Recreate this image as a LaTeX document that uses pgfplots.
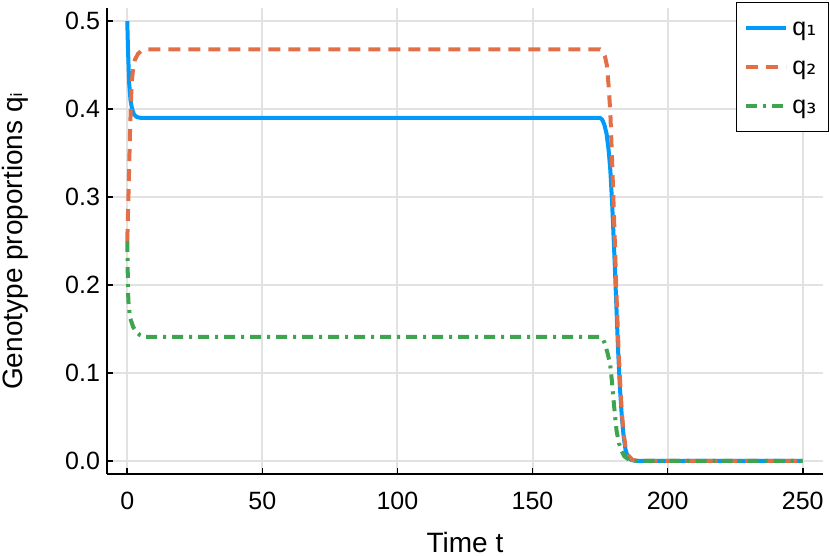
\documentclass[border=0pt]{standalone}
\usepackage{fontspec}
\setmainfont{Liberation Sans}
\newfontfamily\dejavu{DejaVu Sans}
\usepackage{pgfplots}
\pgfplotsset{compat=1.18}

\definecolor{cone}{HTML}{009AFA}
\definecolor{ctwo}{HTML}{E36F47}
\definecolor{cthree}{HTML}{3EA44E}
\definecolor{gridc}{HTML}{E2E2E2}

\begin{document}
\begin{tikzpicture}
\useasboundingbox (-53.5pt,-41pt) rectangle (361.5pt,237pt);
\begin{axis}[
    at={(0,0)}, anchor=south west,
    scale only axis,
    width=358pt, height=233pt,
    xmin=-7.5, xmax=257.5,
    ymin=-0.015, ymax=0.515,
    axis x line*=bottom, axis y line*=left,
    axis line style={-, black, line width=0.9pt},
    xtick={0,50,...,250},
    ytick={0,0.1,0.2,0.3,0.4,0.5},
    tick align=inside,
    major tick length=3pt,
    tick style={black, line width=0.8pt},
    grid=major,
    major grid style={gridc, line width=1pt},
    /pgf/number format/assume math mode=true,
    ticklabel style={font=\fontsize{12.5}{15}\selectfont},
    yticklabel style={/pgf/number format/.cd, fixed, fixed zerofill, precision=1},
    xticklabel style={yshift=-5.5pt},
    xlabel={Time t},
    ylabel={Genotype proportions q{\dejavu ᵢ}},
    label style={font=\fontsize{14}{17}\selectfont},
    xlabel style={at={(axis description cs:0.5,-0.1695)}, anchor=base},
    ylabel style={at={(axis description cs:-0.1187,0.5)}, anchor=base, rotate=0},
    legend style={
        at={(axis description cs:1,1)}, anchor=north east,
        xshift=3pt, yshift=3pt,
        draw=black, line width=0.6pt,
        font=\fontsize{12.5}{15}\selectfont,
        inner xsep=4pt, inner ysep=4pt,
        row sep=2pt,
        nodes={inner sep=2pt, text height=10.5pt, text depth=3pt},
    },
    legend cell align=left,
    legend image code/.code={\draw[#1] (0pt,0pt) -- (20pt,0pt);},
]
\addplot[cone, line width=2pt, line join=round] coordinates {
(0,0.5) (0.3,0.465) (0.7,0.43) (1.2,0.41) (1.8,0.4) (2.5,0.394) (3.5,0.391)
(5,0.39) (175,0.39) (175.8,0.388) (176.6,0.382) (177.4,0.372) (178.2,0.352)
(178.8,0.33) (179.5,0.29) (180.2,0.24) (180.9,0.186) (181.6,0.13) (182.3,0.085)
(183,0.052) (183.7,0.028) (184.4,0.013) (185.2,0.005) (186.5,0.001) (188,0) (250,0)
};
\addplot[ctwo, line width=2pt, dash pattern=on 6pt off 4pt] coordinates {
(0,0.25) (0.4,0.296) (1,0.372) (1.6,0.429) (2.2,0.447) (2.8,0.456) (4,0.463)
(5.5,0.467) (7,0.468) (175,0.468) (176,0.466) (176.8,0.46) (177.5,0.45)
(178.2,0.425) (178.8,0.395) (179.4,0.345) (179.9,0.30) (180.5,0.245) (181.1,0.186)
(181.8,0.13) (182.4,0.091) (183,0.058) (183.6,0.034) (184.4,0.016) (185.5,0.006)
(187,0.001) (189,0) (250,0)
};
\addplot[cthree, line width=2pt, dash pattern=on 5.5pt off 3pt on 1.5pt off 3pt] coordinates {
(0,0.25) (0.2,0.21) (0.4,0.182) (1,0.163) (2.2,0.152) (3.5,0.146) (4.7,0.143)
(6,0.141) (175,0.141) (176,0.139) (176.8,0.133) (177.8,0.122) (178.7,0.11)
(179.3,0.093) (179.9,0.072) (180.5,0.052) (181.1,0.034) (182,0.02) (183,0.011)
(184,0.005) (185.4,0.002) (187,0) (250,0)
};
\legend{q{\dejavu ₁}, q{\dejavu ₂}, q{\dejavu ₃}}
\end{axis}
\end{tikzpicture}
\end{document}
